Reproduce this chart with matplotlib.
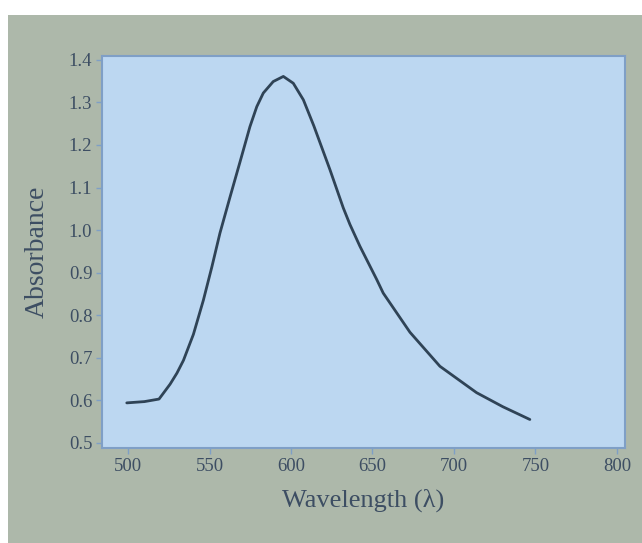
import matplotlib.pyplot as plt
from matplotlib.patches import Rectangle

# values
wavelength = [499.2, 510, 519, 525.8, 530, 534, 540.1, 546.2, 551.4, 556.4, 562.6,
              568.7, 574.8, 579, 583, 589.1, 595.3, 601.4, 607.6, 614, 623.9,
              632.1, 636.2, 642.3, 652.6, 656.6, 673, 691.4, 713.9, 730, 746.6]
absorbance = [0.594, 0.597, 0.603, 0.638, 0.664, 0.694, 0.755, 0.835, 0.913, 0.993, 1.078,
              1.16, 1.243, 1.29, 1.322, 1.349, 1.361, 1.345, 1.306, 1.245, 1.142,
              1.052, 1.013, 0.962, 0.884, 0.852, 0.76, 0.68, 0.618, 0.585, 0.555]
xticks = [500, 550, 600, 650, 700, 750, 800]
yticks = [0.5, 0.6, 0.7, 0.8, 0.9, 1.0, 1.1, 1.2, 1.3, 1.4]

text_col = '#3d4e63'
spine_col = '#7f9fc6'

plt.rcParams['font.family'] = ['Liberation Serif', 'DejaVu Serif']

fig = plt.figure(figsize=(6.42, 5.43), dpi=100)
fig.patch.set_facecolor('white')
# grey-green panel behind the chart
fig.patches.append(Rectangle((8 / 642, 0), 1, 1 - 15 / 543, transform=fig.transFigure,
                             facecolor='#adb8aa', edgecolor='none', zorder=-10))

ax = fig.add_axes([102 / 642, 1 - 448 / 543, 523 / 642, 392 / 543])
ax.set_zorder(1)
ax.set_facecolor('#bcd7f1')
ax.plot(wavelength, absorbance, color='#2f4356', lw=2.0,
        solid_capstyle='round', solid_joinstyle='round')

ax.set_xlim(484, 805)
ax.set_ylim(0.488, 1.409)
ax.set_xticks(xticks)
ax.set_yticks(yticks)
ax.set_yticklabels([f'{v:.1f}' for v in yticks])

for s in ax.spines.values():
    s.set_color(spine_col)
    s.set_linewidth(1.5)
ax.tick_params(direction='out', length=4, width=1, color=spine_col,
               labelcolor=text_col, labelsize=13.5, pad=3)

ax.set_xlabel('Wavelength (λ)', fontsize=19, color=text_col, labelpad=10)
ax.set_ylabel('Absorbance', fontsize=20, color=text_col, labelpad=14)

fig.savefig('out.png', dpi=100)
